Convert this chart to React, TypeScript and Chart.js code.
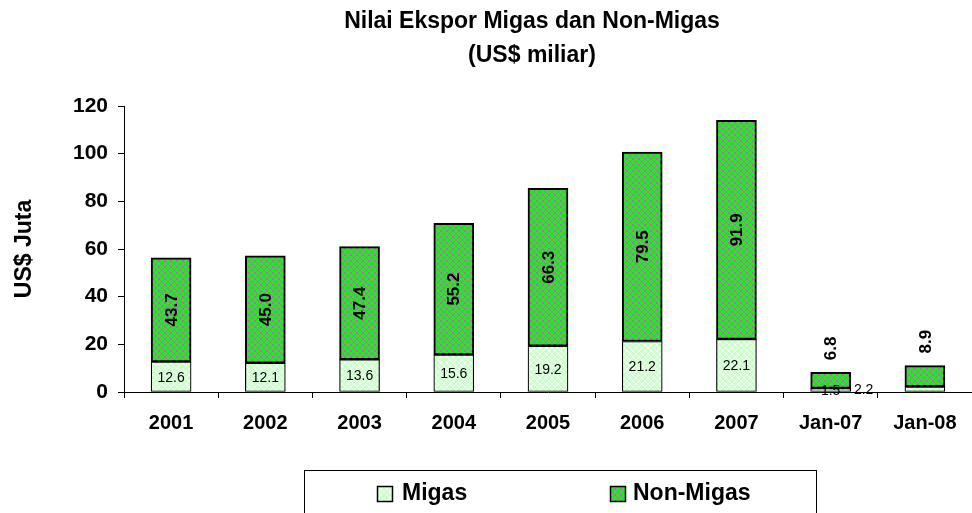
import React, { useEffect, useRef } from 'react';
import { Chart, registerables } from 'chart.js';

Chart.register(...registerables);

const categories = ['2001', '2002', '2003', '2004', '2005', '2006', '2007', 'Jan-07', 'Jan-08'];
const migas = [12.6, 12.1, 13.6, 15.6, 19.2, 21.2, 22.1, 1.5, 2.2];
const nonMigas = [43.7, 45.0, 47.4, 55.2, 66.3, 79.5, 91.9, 6.8, 8.9];
const yMin = 0;
const yMax = 120;
const yStep = 20;
const titleLines = ['Nilai Ekspor Migas dan Non-Migas', '(US$ miliar)'];
const yTitle = 'US$ Juta';
const seriesNames = ['Migas', 'Non-Migas'];

const FONT = '"Liberation Sans", Arial, Helvetica, sans-serif';

function makePattern(base: string, line: string, dot?: string) {
  const c = document.createElement('canvas');
  c.width = 6;
  c.height = 6;
  const g = c.getContext('2d')!;
  g.fillStyle = base;
  g.fillRect(0, 0, 6, 6);
  g.fillStyle = line;
  for (let i = 0; i < 6; i++) {
    g.fillRect(i, i, 1, 1);
    g.fillRect(5 - i, i, 1, 1);
  }
  if (dot) {
    g.fillStyle = dot;
    g.fillRect(2, 2, 2, 2);
  }
  return g.createPattern(c, 'repeat') as CanvasPattern;
}

export default function App() {
  const ref = useRef<HTMLCanvasElement>(null);

  useEffect(() => {
    const canvas = ref.current!;
    const migasFill = makePattern('#ccffcc', '#f2fff2');
    const nonFill = makePattern('#10f810', '#a878a8', '#f040f0');

    const labelPlugin = {
      id: 'customDecor',
      afterDatasetsDraw(chart: any) {
        const ctx = chart.ctx as CanvasRenderingContext2D;
        const m0 = chart.getDatasetMeta(0);
        const m1 = chart.getDatasetMeta(1);
        const xs = chart.scales.x;
        const catW = xs.width / categories.length;
        ctx.save();
        ctx.fillStyle = '#000';
        ctx.font = `14px ${FONT}`;
        ctx.textAlign = 'center';
        ctx.textBaseline = 'middle';
        m0.data.forEach((el: any, i: number) => {
          const { x, y, base } = el.getProps(['x', 'y', 'base'], true);
          const lx = i === categories.length - 1 ? x - 0.65 * catW : x;
          ctx.fillText(migas[i].toFixed(1), lx, (y + base) / 2 + 1);
        });
        ctx.font = `bold 17px ${FONT}`;
        m1.data.forEach((el: any, i: number) => {
          const { x, y, base } = el.getProps(['x', 'y', 'base'], true);
          const h = base - y;
          ctx.save();
          if (h > 40) {
            ctx.translate(x + 1, (y + base) / 2);
            ctx.rotate(-Math.PI / 2);
            ctx.textAlign = 'center';
          } else {
            ctx.translate(x + 1, y - 12);
            ctx.rotate(-Math.PI / 2);
            ctx.textAlign = 'left';
          }
          ctx.textBaseline = 'middle';
          ctx.fillText(nonMigas[i].toFixed(1), 0, 0);
          ctx.restore();
        });
        ctx.restore();
      },
      afterDraw(chart: any) {
        const ctx = chart.ctx as CanvasRenderingContext2D;
        ctx.save();
        // title
        ctx.fillStyle = '#000';
        ctx.font = `bold 23px ${FONT}`;
        ctx.textAlign = 'center';
        ctx.textBaseline = 'middle';
        ctx.fillText(titleLines[0], 532, 22);
        ctx.fillText(titleLines[1], 532, 56);
        // legend
        ctx.strokeStyle = '#000';
        ctx.lineWidth = 1;
        ctx.strokeRect(304.5, 470.5, 512, 60);
        const items = [
          { name: seriesNames[0], fill: migasFill, bx: 377, tx: 402 },
          { name: seriesNames[1], fill: nonFill, bx: 610, tx: 633 },
        ];
        ctx.font = `bold 23px ${FONT}`;
        ctx.textAlign = 'left';
        items.forEach((it) => {
          ctx.fillStyle = it.fill;
          ctx.fillRect(it.bx, 486, 16, 16);
          ctx.lineWidth = 1.5;
          ctx.strokeRect(it.bx + 0.5, 486.5, 15, 15);
          ctx.fillStyle = '#000';
          ctx.fillText(it.name, it.tx, 494);
        });
        ctx.restore();
      },
    };

    const chart = new Chart(canvas, {
      type: 'bar',
      data: {
        labels: categories,
        datasets: [
          {
            label: seriesNames[0],
            data: migas,
            backgroundColor: migasFill,
            borderColor: '#000',
            borderWidth: 1.2,
            borderSkipped: false,
            barThickness: 40,
          },
          {
            label: seriesNames[1],
            data: nonMigas,
            backgroundColor: nonFill,
            borderColor: '#000',
            borderWidth: 2,
            borderSkipped: false,
            barThickness: 40,
          },
        ],
      },
      options: {
        animation: false,
        responsive: true,
        maintainAspectRatio: false,
        layout: { padding: { top: 106, left: 0, right: 0, bottom: 76 } },
        plugins: {
          legend: { display: false },
          title: { display: false },
          tooltip: { enabled: false },
        },
        scales: {
          x: {
            stacked: true,
            afterFit: (s: any) => {
              s.height = 45;
            },
            grid: {
              offset: true,
              drawOnChartArea: false,
              drawTicks: true,
              tickLength: 6,
              color: '#000',
            },
            border: { color: '#000', width: 1 },
            ticks: {
              color: '#000',
              padding: 13,
              font: { family: FONT, size: 20, weight: 'bold' },
              maxRotation: 0,
            },
          },
          y: {
            stacked: true,
            min: yMin,
            max: yMax,
            afterFit: (s: any) => {
              s.width = 124;
            },
            grid: {
              drawOnChartArea: false,
              drawTicks: true,
              tickLength: 6,
              color: '#000',
            },
            border: { color: '#000', width: 1 },
            ticks: {
              stepSize: yStep,
              color: '#000',
              padding: 10,
              font: { family: FONT, size: 21, weight: 'bold' },
            },
            title: {
              display: true,
              text: yTitle,
              color: '#000',
              font: { family: FONT, size: 23, weight: 'bold' },
              padding: { top: 11, bottom: 0 },
            },
          },
        },
      },
      plugins: [labelPlugin],
    });
    return () => chart.destroy();
  }, []);

  return (
    <div style={{ position: 'absolute', left: 0, top: 0, width: 972, height: 513, background: '#fff' }}>
      <canvas ref={ref} />
    </div>
  );
}
